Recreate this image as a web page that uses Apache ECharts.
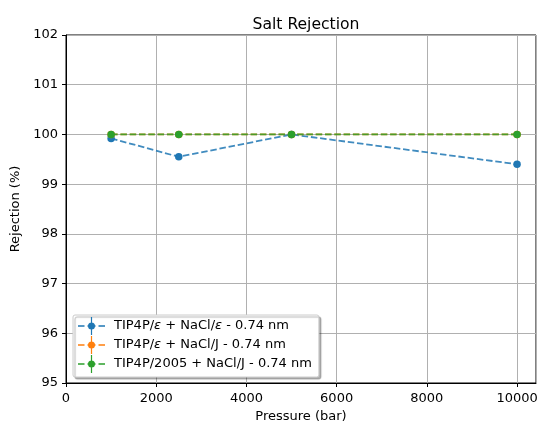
<!DOCTYPE html>
<html>
<head>
<meta charset="utf-8">
<script src="https://cdn.jsdelivr.net/npm/echarts@6/dist/echarts.min.js"></script>
<style>
  html, body { margin: 0; padding: 0; background: #fff; }
  #chart { width: 537px; height: 421px; }
</style>
</head>
<body>
<div id="chart"></div>
<script>
// Pressure values (bar) at which rejection was measured
const pressures = [1000, 2500, 5000, 10000];

// Salt rejection (%) for each force-field combination
const rejEpsEps = [99.92, 99.55, 100.0, 99.40];
const rejEpsJ = [100.0, 100.0, 100.0, 100.0];
const rej2005J = [100.0, 100.0, 100.0, 100.0];

const seriesNames = [
  'TIP4P/\u03b5 + NaCl/\u03b5 - 0.74 nm',
  'TIP4P/\u03b5 + NaCl/J - 0.74 nm',
  'TIP4P/2005 + NaCl/J - 0.74 nm'
];
const seriesColors = ['#1f77b4', '#ff7f0e', '#2ca02c'];
const seriesData = [rejEpsEps, rejEpsJ, rej2005J];

const yTicks = [95, 96, 97, 98, 99, 100, 101, 102];
const xTicks = [0, 2000, 4000, 6000, 8000, 10000];

const FONT = 'DejaVu Sans';
const FS = 13;

// legend glyph: dashed line with an error-bar marker in the middle (27 x 18 box)
const legendIcon = 'path://M0 8.2h6.5v1.6h-6.5z' +
  'M9.5 8.2h8v1.6h-8z' +
  'M20.5 8.2h6.5v1.6h-6.5z' +
  'M12.9 0h1.2v18h-1.2z' +
  'M10 9a3.5 3.5 0 1 1 7 0a3.5 3.5 0 1 1 -7 0z';

const chart = echarts.init(document.getElementById('chart'), null, { renderer: 'canvas' });

const series = seriesData.map((vals, i) => ({
  name: seriesNames[i],
  type: 'line',
  data: pressures.map((p, k) => [p, vals[k]]),
  symbol: 'circle',
  symbolSize: 7.5,
  z: 2 + i,
  itemStyle: { color: seriesColors[i] },
  lineStyle: { type: [6.5, 2.8], width: 1.8, opacity: 0.85, color: seriesColors[i] },
  emphasis: { disabled: true },
  animation: false
}));

chart.setOption({
  animation: false,
  title: {
    text: 'Salt Rejection',
    left: 301,
    textAlign: 'center',
    top: 12,
    textStyle: { fontFamily: FONT, fontSize: 15.6, fontWeight: 'normal', color: '#000' }
  },
  grid: {
    left: 66, right: 1, top: 35, bottom: 38,
    outerBoundsMode: 'none',
    containLabel: false,
    show: true, borderColor: '#000', borderWidth: 1, backgroundColor: 'transparent'
  },
  legend: {
    orient: 'vertical',
    left: 73,
    top: 315,
    padding: [2, 7, 4, 5],
    itemWidth: 27,
    itemHeight: 18,
    itemGap: 1,
    icon: legendIcon,
    itemStyle: { borderWidth: 0 },
    backgroundColor: '#fff',
    borderColor: '#cccccc',
    borderWidth: 1,
    borderRadius: 2,
    shadowColor: 'rgba(0,0,0,0.3)',
    shadowOffsetX: 2,
    shadowOffsetY: 2,
    shadowBlur: 1,
    formatter: name => name.replace(/\u03b5/g, '{i|\u03b5}'),
    textStyle: {
      fontFamily: FONT, fontSize: FS, color: '#000', padding: [0, 0, 0, 4],
      rich: { i: { fontFamily: FONT, fontSize: FS, fontStyle: 'italic', color: '#000' } }
    },
    data: seriesNames
  },
  xAxis: {
    type: 'value',
    min: 0,
    max: 10420,
    interval: 2000,
    name: 'Pressure (bar)',
    nameLocation: 'middle',
    nameGap: 25,
    nameTextStyle: { fontFamily: FONT, fontSize: FS, color: '#000', verticalAlign: 'top' },
    axisLine: { show: true, lineStyle: { color: '#000', width: 1 } },
    axisTick: { show: true, length: 4, lineStyle: { color: '#000' } },
    axisLabel: {
      fontFamily: FONT, fontSize: FS, color: '#000', margin: 9,
      showMaxLabel: false,
      formatter: v => (xTicks.indexOf(v) >= 0 ? String(v) : '')
    },
    splitLine: { show: true, lineStyle: { color: '#b0b0b0', width: 1 } }
  },
  yAxis: {
    type: 'value',
    min: 95,
    max: 102,
    interval: 1,
    name: 'Rejection (%)',
    nameLocation: 'middle',
    nameGap: 31,
    nameRotate: 90,
    nameTextStyle: { fontFamily: FONT, fontSize: FS, color: '#000' },
    axisLine: { show: true, lineStyle: { color: '#000', width: 1 } },
    axisTick: { show: true, length: 4, lineStyle: { color: '#000' } },
    axisLabel: {
      fontFamily: FONT, fontSize: FS, color: '#000', margin: 8,
      formatter: v => (yTicks.indexOf(v) >= 0 ? String(v) : '')
    },
    splitLine: { show: true, lineStyle: { color: '#b0b0b0', width: 1 } }
  },
  series: series
});
</script>
</body>
</html>
